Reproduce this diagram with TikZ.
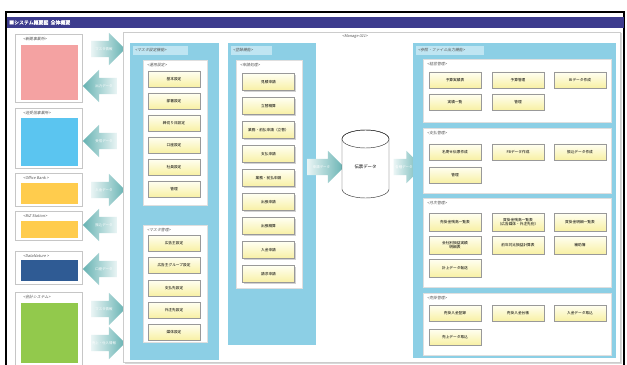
\documentclass[tikz,border=0pt]{standalone}
\usepackage{fontspec}
\setmainfont{Noto Sans CJK JP}[AutoFakeSlant=0.2,AutoFakeBold=1.5]
\usepackage{xcolor}
\usepackage{tikz}
\usetikzlibrary{shapes.arrows}
\usetikzlibrary{shadows}
\definecolor{titlebar}{HTML}{3D3C8E}
\definecolor{pinkc}{HTML}{F4A2A2}
\definecolor{cyanc}{HTML}{5BC5F0}
\definecolor{yellowc}{HTML}{FFCC4D}
\definecolor{navyc}{HTML}{2F5B94}
\definecolor{greenc}{HTML}{92C94C}
\definecolor{panelc}{HTML}{8CCFE5}
\definecolor{tabc}{HTML}{BFE5F2}
\definecolor{btntop}{HTML}{FFFFF2}
\definecolor{btnbot}{HTML}{F8F0A4}
\definecolor{arlight}{HTML}{EAF5F5}
\definecolor{ardark}{HTML}{66B2B2}
\definecolor{lblc}{HTML}{555555}

\begin{document}
\begin{tikzpicture}[x=0.4mm,y=-0.4mm,
	btn/.style={draw=gray!80,line width=0.4pt,top color=btntop,bottom color=btnbot,minimum width=20.8mm,minimum height=6.4mm,inner sep=0pt,align=center,font=\fontsize{4.2}{5}\selectfont,drop shadow={shadow xshift=0.5mm,shadow yshift=-0.5mm,opacity=0.35}},
	tallbtn/.style={btn,minimum height=7.2mm},
	lbl/.style={anchor=west,inner sep=0pt,text=lblc,font=\fontsize{4.4}{5}\selectfont\itshape},
	lbox/.style={fill=white,draw=gray!45,drop shadow={shadow xshift=0.5mm,shadow yshift=-0.5mm,opacity=0.3}},
	wpanel/.style={fill=white,draw=gray!25},
	arr/.style={single arrow,single arrow head extend=3.2mm,inner xsep=0pt,inner ysep=2.45mm,text height=1.2mm,text depth=0.3mm,minimum height=13.6mm,minimum width=12.8mm},
	rarr/.style={arr,left color=arlight,right color=ardark},
	larr/.style={arr,shape border rotate=180,left color=ardark,right color=arlight},
	atext/.style={inner sep=0pt,text=white,font=\fontsize{3.9}{4.5}\selectfont}]
	\useasboundingbox (0,0) rectangle (627,365);
	\fill[white] (0,0) rectangle (627,365);
	\draw[line width=1.3pt] (6,367) -- (6,12) -- (624,12) -- (624,367);
	\fill[titlebar] (7,17) rectangle (623.5,28);
	\node[anchor=west,inner sep=0pt,text=white,font=\fontsize{5.6}{6}\selectfont\bfseries] (title) at (9,22.5) {■システム概要図\ \ 全体概要};

	\draw[lbox] (15,34) rectangle (82,102);
	\fill[pinkc] (21,45) rectangle (78,100);
	\node[lbl] (src1) at (23,39) {<新聞事業所>};
	\draw[lbox] (15,108) rectangle (82,168);
	\fill[cyanc] (21,118) rectangle (78,166);
	\node[lbl] (src2) at (23,113) {<送受信事業所>};
	\draw[lbox] (15,173) rectangle (82,206);
	\fill[yellowc] (21,183) rectangle (78,204);
	\node[lbl] (src3) at (23,178) {<Office Bank >};
	\draw[lbox] (15,211) rectangle (82,240);
	\fill[yellowc] (21,221) rectangle (78,238);
	\node[lbl] (src4) at (23,216) {<BiZ Station>};
	\draw[lbox] (15,251) rectangle (82,284);
	\fill[navyc] (21,260) rectangle (78,281);
	\node[lbl] (src5) at (23,256) {<DataNature >};
	\draw[lbox] (15,292) rectangle (82,372);
	\fill[greenc] (21,303) rectangle (78,363);
	\node[lbl] (src6) at (23,297) {<会計システム>};

	\node[rarr] (a1) at (104,49) {};
	\node[atext] (t1) at (a1) {マスタ情報};
	\node[larr] (a2) at (104,86) {};
	\node[atext] (t2) at (a2) {出力データ};
	\node[larr] (a3) at (104,141) {};
	\node[atext] (t3) at (a3) {受信データ};
	\node[rarr] (a4) at (104,190) {};
	\node[atext] (t4) at (a4) {入金データ};
	\node[larr] (a5) at (104,225) {};
	\node[atext] (t5) at (a5) {振込データ};
	\node[larr] (a6) at (104,269) {};
	\node[atext] (t6) at (a6) {口座データ};
	\node[rarr] (a7) at (104,309) {};
	\node[atext] (t7) at (a7) {マスタ情報};
	\node[rarr] (a8) at (104,343) {};
	\node[atext] (t8) at (a8) {売上・仕入情報};

	\draw[fill=white,draw=gray!40,drop shadow={shadow xshift=0.6mm,shadow yshift=-0.6mm,opacity=0.3}] (123,32) rectangle (620,362);
	\node[lbl,anchor=center] (mng) at (355,37) {<Manage 021>};

	\fill[panelc] (130,43) rectangle (219,360);
	\fill[tabc] (133,46) rectangle (188,55);
	\node[lbl] (p1) at (135,50.5) {<マスタ設定機能>};
	\draw[wpanel] (143,60) rectangle (207,205);
	\node[lbl] (w1) at (147,65) {<運用設定>};
	\node[btn] (u1) at (174,79) {基本設定};
	\node[btn] (u2) at (174,101) {部署設定};
	\node[btn] (u3) at (174,123) {締切り日設定};
	\node[btn] (u4) at (174,145) {口座設定};
	\node[btn] (u5) at (174,167) {社員設定};
	\node[btn] (u6) at (174,189) {管理};
	\draw[wpanel] (143,225) rectangle (207,342);
	\node[lbl] (w2) at (147,230) {<マスタ管理>};
	\node[btn] (m1) at (174,243) {広告主設定};
	\node[btn] (m2) at (174,265) {広告主グループ設定};
	\node[btn] (m3) at (174,288) {支払先設定};
	\node[btn] (m4) at (174,310) {外注先設定};
	\node[btn] (m5) at (174,332) {媒体設定};

	\fill[panelc] (228,43) rectangle (316,345);
	\fill[tabc] (231,46) rectangle (272,55);
	\node[lbl] (p2) at (233,50.5) {<登録機能>};
	\draw[wpanel] (236,60) rectangle (302,288);
	\node[lbl] (w3) at (240,65) {<申請処理>};
	\node[btn,minimum height=6.8mm] (r1) at (268.5,82) {見積申請};
	\node[btn,minimum height=6.8mm] (r2) at (268.5,106) {立替精算};
	\node[btn,minimum height=6.8mm] (r3) at (268.5,130) {業務・前払申請（立替）};
	\node[btn,minimum height=6.8mm] (r4) at (268.5,154) {支払申請};
	\node[btn,minimum height=6.8mm] (r5) at (268.5,178) {業務・前払申請};
	\node[btn,minimum height=6.8mm] (r6) at (268.5,202) {出張申請};
	\node[btn,minimum height=6.8mm] (r7) at (268.5,226) {出張精算};
	\node[btn,minimum height=6.8mm] (r8) at (268.5,250) {入金申請};
	\node[btn,minimum height=6.8mm] (r9) at (268.5,274) {請求申請};

	\node[rarr,minimum height=14.8mm] (a9) at (321.5,167) {};
	\node[atext] (t9) at (a9) {申請データ};
	\filldraw[fill=white,draw=black!80,line width=0.5pt] (342,139) -- (342,189) arc[start angle=180,end angle=360,x radius=9.4mm,y radius=3.6mm] -- (389,139) arc[start angle=0,end angle=180,x radius=9.4mm,y radius=3.6mm] -- cycle;
	\draw[draw=black!80,line width=0.5pt] (365.5,139) ellipse[x radius=9.4mm,y radius=3.6mm];
	\node[font=\fontsize{5}{6}\selectfont] (db) at (365.5,167) {伝票データ};
	\node[rarr,minimum height=11.6mm] (a10) at (404,167) {};
	\node[atext] (t10) at (a10) {各種データ};

	\fill[panelc] (413,43) rectangle (616,358);
	\fill[tabc] (416,46) rectangle (484,55);
	\node[lbl] (p3) at (418,50.5) {<参照・ファイル出力機能>};

	\draw[wpanel] (423,59) rectangle (611,122);
	\node[lbl] (s1) at (427,64) {<経営管理>};
	\node[btn] (k1) at (455,80) {予算実績表};
	\node[btn] (k2) at (518,80) {予算管理};
	\node[btn] (k3) at (580,80) {BIデータ作成};
	\node[btn] (k4) at (455,102) {実績一覧};
	\node[btn] (k5) at (518,102) {管理};

	\draw[wpanel] (423,128) rectangle (611,193);
	\node[lbl] (s2) at (427,133) {<支払管理>};
	\node[btn] (f1) at (455,152) {名寄せ伝票作成};
	\node[btn] (f2) at (518,152) {FBデータ作成};
	\node[btn] (f3) at (580,152) {振込データ作成};
	\node[btn] (f4) at (455,175) {管理};

	\draw[wpanel] (423,198) rectangle (611,287);
	\node[lbl] (s3) at (427,203) {<月次管理>};
	\node[tallbtn] (g1) at (455,222) {売掛金残高一覧表};
	\node[tallbtn] (g2) at (518,222) {買掛金残高一覧表\\（広告媒体・外注先別）};
	\node[tallbtn] (g3) at (580,222) {買掛金明細一覧表};
	\node[tallbtn] (g4) at (455,245) {会社別損益実績\\明細表};
	\node[tallbtn] (g5) at (518,245) {前年対比損益計算表};
	\node[tallbtn] (g6) at (580,245) {補助簿};
	\node[tallbtn] (g7) at (455,268) {計上データ転送};

	\draw[wpanel] (423,293) rectangle (611,355);
	\node[lbl] (s4) at (427,298) {<売掛管理>};
	\node[btn] (c1) at (455,313) {売掛入金登録};
	\node[btn] (c2) at (518,313) {売掛入金台帳};
	\node[btn] (c3) at (580,313) {入金データ取込};
	\node[btn] (c4) at (455,337) {売上データ取込};
\end{tikzpicture}
\end{document}
